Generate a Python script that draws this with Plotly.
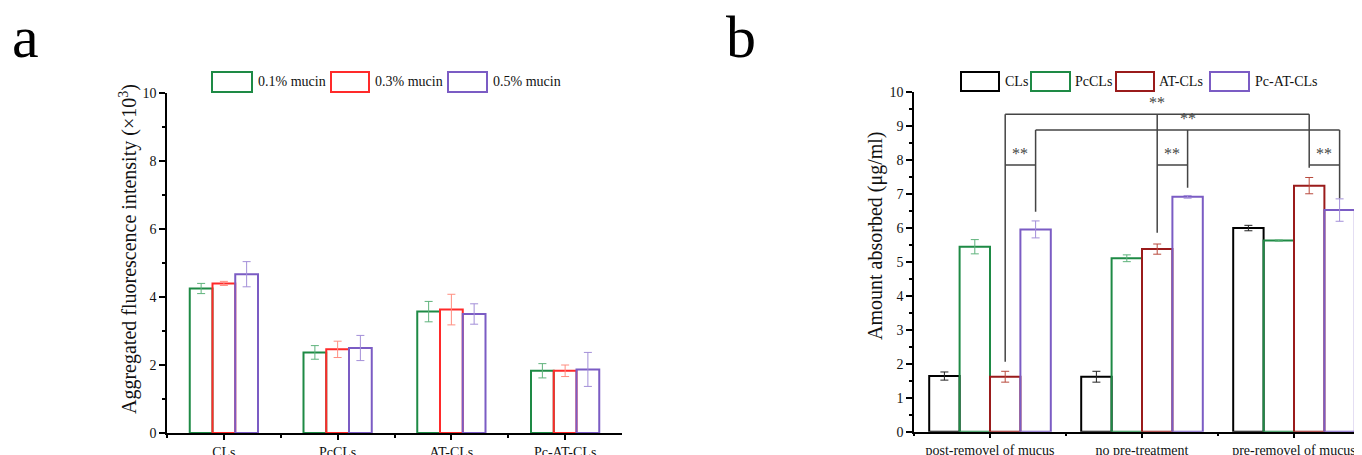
import plotly.graph_objects as go

W, H = 1362, 455
OFF = 8  # page body margin of the written html

# ---------------- data: panel a ----------------
cats_a = ["CLs", "PcCLs", "AT-CLs", "Pc-AT-CLs"]
series_a = ["0.1% mucin", "0.3% mucin", "0.5% mucin"]
mucin01 = [4.25, 2.37, 3.57, 1.83]
mucin01_err = [0.15, 0.20, 0.30, 0.21]
mucin03 = [4.40, 2.46, 3.63, 1.83]
mucin03_err = [0.06, 0.24, 0.45, 0.17]
mucin05 = [4.67, 2.50, 3.50, 1.87]
mucin05_err = [0.37, 0.37, 0.30, 0.50]

# ---------------- data: panel b ----------------
cats_b = ["post-removel of mucus", "no pre-treatment", "pre-removel of mucus"]
series_b = ["CLs", "PcCLs", "AT-CLs", "Pc-AT-CLs"]
b_cls = [1.64, 1.62, 6.00]
b_cls_err = [0.12, 0.16, 0.08]
b_pccls = [5.45, 5.11, 5.63]
b_pccls_err = [0.21, 0.10, 0.02]
b_atcls = [1.62, 5.38, 7.25]
b_atcls_err = [0.16, 0.15, 0.24]
b_pcatcls = [5.96, 6.92, 6.53]
b_pcatcls_err = [0.25, 0.04, 0.33]

# significance brackets (x in category units, y in ug/ml)
sig_h = [(0.1, 2.1, 9.35), (0.3, 2.3, 8.89), (0.1, 0.3, 7.86), (1.1, 1.3, 7.86), (2.1, 2.3, 7.86)]
sig_v = [(0.1, 2.06, 9.35), (1.1, 5.86, 9.35), (2.1, 7.78, 9.35),
         (0.3, 6.48, 8.89), (1.3, 7.19, 8.89), (2.3, 6.88, 8.89)]
sig_stars = [(1.1, 9.35), (1.3, 8.89), (0.2, 7.86), (1.2, 7.86), (2.2, 7.86)]

SERIF = "Liberation Serif, Times New Roman, serif"

cols_a = ["#1e8a45", "#ff2a2a", "#7b5cc4"]
ecols_a = ["#5fb37c", "#ff8e80", "#a38fd8"]
cols_b = ["#000000", "#1e8a45", "#9a1b1b", "#7b5cc4"]
ecols_b = ["#222222", "#5fb37c", "#b8493c", "#a38fd8"]

fig = go.Figure()

vals_a = [(mucin01, mucin01_err), (mucin03, mucin03_err), (mucin05, mucin05_err)]
xa = list(range(len(cats_a)))
for i, (v, e) in enumerate(vals_a):
    fig.add_trace(go.Bar(
        x=xa, y=v, name=series_a[i], width=0.2, offset=-0.3 + 0.2 * i,
        marker=dict(color="rgba(255,255,255,0)", line=dict(color=cols_a[i], width=2)),
        error_y=dict(type="data", array=e, color=ecols_a[i], thickness=1, width=4),
        xaxis="x", yaxis="y", showlegend=False))

vals_b = [(b_cls, b_cls_err), (b_pccls, b_pccls_err), (b_atcls, b_atcls_err), (b_pcatcls, b_pcatcls_err)]
xb = list(range(len(cats_b)))
for i, (v, e) in enumerate(vals_b):
    fig.add_trace(go.Bar(
        x=xb, y=v, name=series_b[i], width=0.2, offset=-0.4 + 0.2 * i,
        marker=dict(color="rgba(255,255,255,0)", line=dict(color=cols_b[i], width=2)),
        error_y=dict(type="data", array=e, color=ecols_b[i], thickness=1, width=4),
        xaxis="x2", yaxis="y2", showlegend=False))

shapes = []
for x0, x1, y in sig_h:
    shapes.append(dict(type="line", xref="x2", yref="y2", x0=x0, x1=x1, y0=y, y1=y,
                       line=dict(color="#444444", width=1.5)))
for x, y0, y1 in sig_v:
    shapes.append(dict(type="line", xref="x2", yref="y2", x0=x, x1=x, y0=y0, y1=y1,
                       line=dict(color="#444444", width=1.5)))

annotations = []
for x, y in sig_stars:
    annotations.append(dict(x=x, y=y, xref="x2", yref="y2", text="**", showarrow=False,
                            xanchor="center", yanchor="bottom", yshift=1,
                            font=dict(family=SERIF, size=16, color="#444444")))

def px(x):
    return (x - OFF) / W

def py(y):
    return (H - (y - OFF)) / H

# manual legends (wide rectangles like the original)
leg_a = [(212, 252, 256), (331, 369, 373), (448, 487, 491)]
for i, (x0, x1, tx) in enumerate(leg_a):
    shapes.append(dict(type="rect", xref="paper", yref="paper", x0=px(x0), x1=px(x1),
                       y0=py(92), y1=py(72), line=dict(color=cols_a[i], width=2)))
    annotations.append(dict(x=px(tx), y=py(82), xref="paper", yref="paper", text=series_a[i],
                            showarrow=False, xanchor="left", yanchor="middle",
                            font=dict(family=SERIF, size=14, color="#111111")))
leg_b = [(961, 999, 1003), (1031, 1070, 1073), (1116, 1154, 1157), (1210, 1249, 1253)]
for i, (x0, x1, tx) in enumerate(leg_b):
    shapes.append(dict(type="rect", xref="paper", yref="paper", x0=px(x0), x1=px(x1),
                       y0=py(91), y1=py(72), line=dict(color=cols_b[i], width=2)))
    annotations.append(dict(x=px(tx), y=py(81.5), xref="paper", yref="paper", text=series_b[i],
                            showarrow=False, xanchor="left", yanchor="middle",
                            font=dict(family=SERIF, size=14, color="#111111")))

# axis titles
annotations.append(dict(x=px(128), y=py(249), xref="paper", yref="paper",
                        text="Aggregated fluorescence intensity (×10<sup>3</sup>)",
                        textangle=-90, showarrow=False, xanchor="center", yanchor="middle",
                        font=dict(family=SERIF, size=20, color="#111111")))
annotations.append(dict(x=px(875), y=py(236), xref="paper", yref="paper",
                        text="Amount absorbed (μg/ml)",
                        textangle=-90, showarrow=False, xanchor="center", yanchor="middle",
                        font=dict(family=SERIF, size=20, color="#111111")))
# panel labels
annotations.append(dict(x=px(10), y=py(37), xref="paper", yref="paper", text="a",
                        showarrow=False, xanchor="left", yanchor="middle",
                        font=dict(family=SERIF, size=60, color="#000000")))
annotations.append(dict(x=px(724), y=py(37), xref="paper", yref="paper", text="b",
                        showarrow=False, xanchor="left", yanchor="middle",
                        font=dict(family=SERIF, size=60, color="#000000")))

tickfont = dict(family=SERIF, size=14, color="#111111")
common_x = dict(showline=True, linecolor="black", linewidth=1.5, ticks="outside", ticklen=5,
                tickwidth=1.5, tickcolor="black", showgrid=False, zeroline=False,
                tickfont=tickfont, tickmode="array", automargin=False)
common_y = dict(showline=True, linecolor="black", linewidth=1.5, ticks="outside", ticklen=6,
                tickwidth=1.5, tickcolor="black", showgrid=False, zeroline=False,
                tickfont=tickfont, range=[0, 10], automargin=False)

fig.update_layout(
    width=W, height=H, margin=dict(l=0, r=0, t=0, b=0, autoexpand=False),
    paper_bgcolor="white", plot_bgcolor="white", barmode="overlay",
    xaxis=dict(common_x, domain=[px(167), px(622)], range=[-0.5, 3.5], anchor="y",
               tickvals=xa, ticktext=cats_a,
               minor=dict(ticks="outside", ticklen=3, tickwidth=1.5, tickcolor="black",
                          tickvals=[-0.5, 0.5, 1.5, 2.5])),
    yaxis=dict(common_y, domain=[py(433), py(93)], anchor="x", dtick=2,
               minor=dict(ticks="outside", ticklen=3, tickwidth=1.5, tickcolor="black", dtick=1)),
    xaxis2=dict(common_x, domain=[px(914), 1.0], range=[-0.5, 2.5], anchor="y2",
                tickvals=xb, ticktext=cats_b,
                minor=dict(ticks="outside", ticklen=3, tickwidth=1.5, tickcolor="black",
                           tickvals=[-0.5, 0.5, 1.5])),
    yaxis2=dict(common_y, domain=[py(431.7), py(92.3)], anchor="x2", dtick=1,
                minor=dict(ticks="outside", ticklen=3, tickwidth=1.5, tickcolor="black", dtick=0.5)),
    shapes=shapes, annotations=annotations,
)

fig.write_html("out.html")
